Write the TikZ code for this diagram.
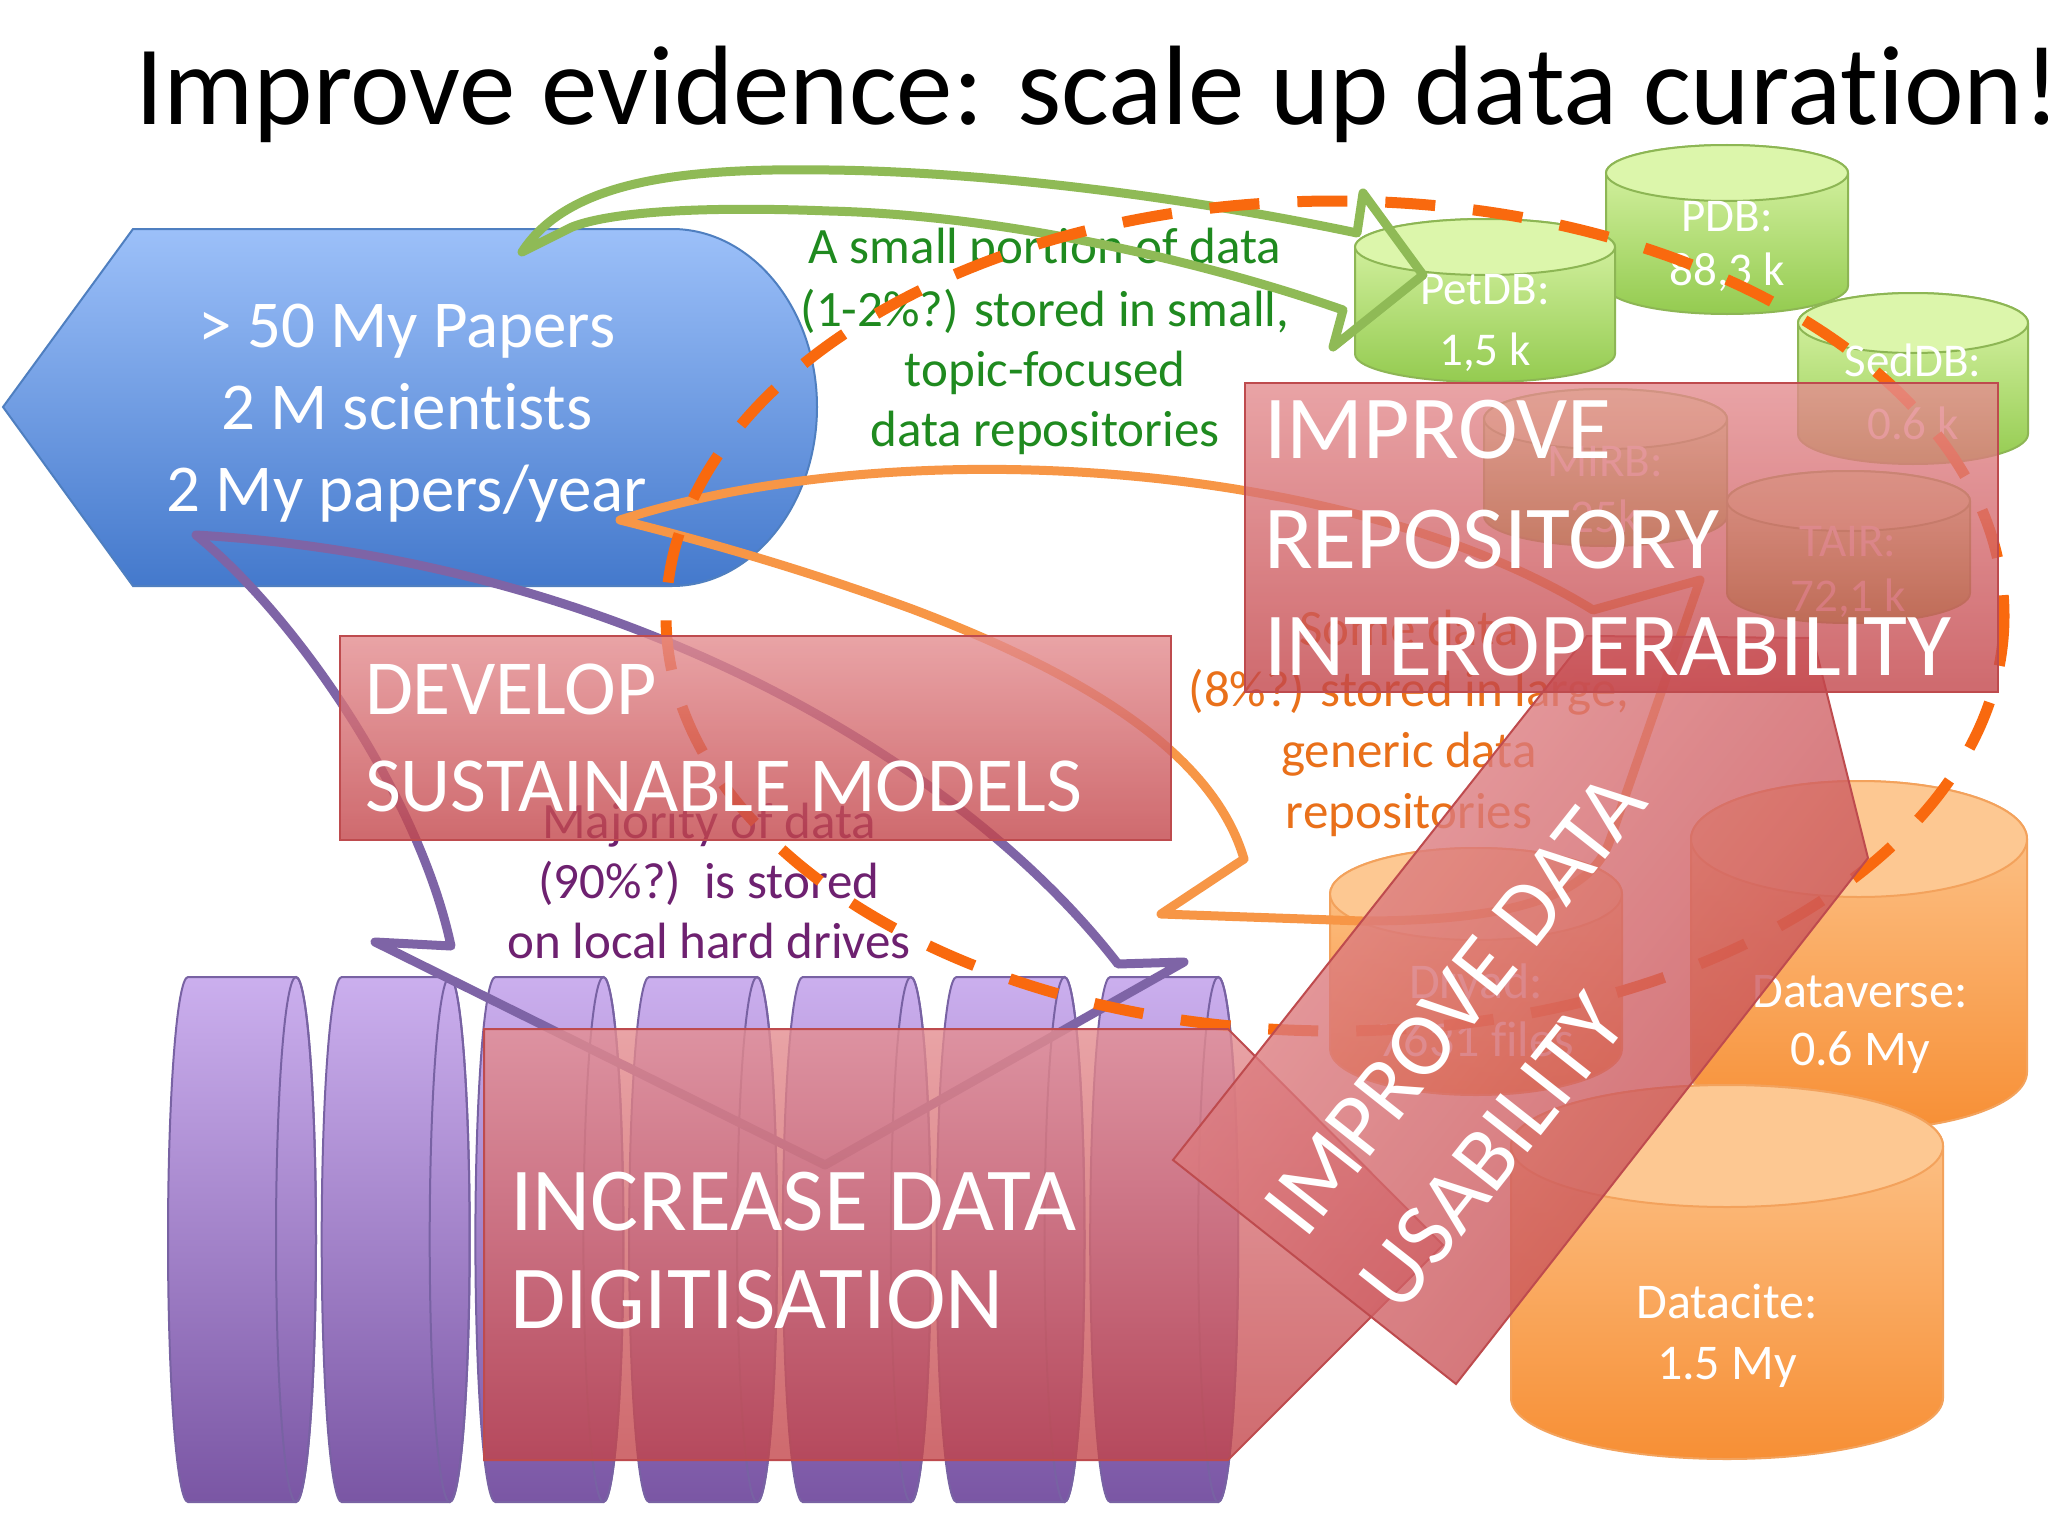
\documentclass[tikz,border=0pt]{standalone}
\usepackage{fontspec}
\setmainfont{Carlito}[Ligatures=NoCommon]
\definecolor{bluetop}{HTML}{9CC0F9}
\definecolor{bluebot}{HTML}{4479CC}
\definecolor{blueline}{HTML}{4F7FC0}
\definecolor{grntop}{HTML}{DCF6AB}
\definecolor{grnbot}{HTML}{94CB50}
\definecolor{grnline}{HTML}{8DB654}
\definecolor{orgtop}{HTML}{FDC892}
\definecolor{orgbot}{HTML}{F78F35}
\definecolor{orgline}{HTML}{F3A25C}
\definecolor{purtop}{HTML}{CBAFEE}
\definecolor{purbot}{HTML}{7A56A4}
\definecolor{purline}{HTML}{7862A3}
\definecolor{redtop}{HTML}{E48D90}
\definecolor{redbot}{HTML}{C3454A}
\definecolor{redline}{HTML}{BE4B4E}
\definecolor{arrgrn}{HTML}{8FBA56}
\definecolor{arrorg}{HTML}{F79646}
\definecolor{arrpur}{HTML}{7E64A6}
\definecolor{dashorg}{HTML}{F9690E}
\definecolor{txtgrn}{HTML}{1F8A1F}
\definecolor{txtorg}{HTML}{E9701A}
\definecolor{txtpur}{HTML}{6E2170}
\newcommand{\fsz}[1]{\fontsize{#1}{#1}\selectfont}
% vertical cylinder: x1, x2, top, bottom, ry, top colour, bottom colour, line colour
\newcommand{\vcyl}[8]{%
  \pgfmathsetmacro\cyX{(#1+#2)/2}%
  \pgfmathsetmacro\cyR{(#2-#1)/2}%
  \pgfmathsetmacro\cyT{#3+#5}%
  \pgfmathsetmacro\cyB{#4-#5}%
  \pgfmathsetmacro\cyKx{0.5523*\cyR}%
  \pgfmathsetmacro\cyKy{0.5523*#5}%
  \path[draw=#8, line width=2pt, top color=#6, bottom color=#7]
    (#1,\cyT) -- (#1,\cyB)
    .. controls (#1,\cyB+\cyKy) and (\cyX-\cyKx,#4) .. (\cyX,#4)
    .. controls (\cyX+\cyKx,#4) and (#2,\cyB+\cyKy) .. (#2,\cyB)
    -- (#2,\cyT)
    .. controls (#2,\cyT-\cyKy) and (\cyX+\cyKx,#3) .. (\cyX,#3)
    .. controls (\cyX-\cyKx,#3) and (#1,\cyT-\cyKy) .. (#1,\cyT) -- cycle;
  \draw[draw=#8, line width=2pt, fill=#6] (\cyX,\cyT) ellipse [x radius=\cyR, y radius=#5];
}
% horizontal disk, face on the right
\newcommand{\hdisk}[1]{%
  \pgfmathsetmacro\dkA{#1}%
  \pgfmathsetmacro\dkB{#1+20}%
  \pgfmathsetmacro\dkC{#1+128}%
  \pgfmathsetmacro\dkD{#1+148}%
  \path[draw=purline, line width=2pt, top color=purtop, bottom color=purbot]
    (\dkB,977) -- (\dkC,977)
    .. controls (\dkC+11,977) and (\dkD,1094.5) .. (\dkD,1239.5)
    .. controls (\dkD,1384.5) and (\dkC+11,1502) .. (\dkC,1502)
    -- (\dkB,1502)
    .. controls (\dkB-11,1502) and (\dkA,1384.5) .. (\dkA,1239.5)
    .. controls (\dkA,1094.5) and (\dkB-11,977) .. (\dkB,977) -- cycle;
  \draw[purline, line width=2pt] (\dkC,1239.5) ellipse [x radius=20, y radius=262.5];
}
\begin{document}
\begin{tikzpicture}[x=1pt,y=-1pt,
  txt/.style={inner sep=0pt, outer sep=0pt, anchor=base},
  txtw/.style={inner sep=0pt, outer sep=0pt, anchor=base west},
  redsty/.style={draw=redline, line width=2pt, top color=redtop, bottom color=redbot, fill opacity=0.8},
  arrsty/.style={line width=9pt, line join=round, line cap=round},
  dashsty/.style={draw=dashorg, line width=11pt, dash pattern=on 50pt off 38pt}]
\useasboundingbox[fill=white] (0,0) rectangle (2048,1536);

% title
\node[txtw, font=\fsz{113}] (title) at (135,125) {Improve evidence: scale up data curation!};

% blue display shape
\path[draw=blueline, line width=2pt, top color=bluetop, bottom color=bluebot]
  (3,407) -- (133,229) -- (672,229) .. controls (752,229) and (817,309) .. (817,407)
  .. controls (817,505) and (752,586) .. (672,586) -- (133,586) -- cycle;
\node[txt, text=white, font=\fsz{67}] (pap1) at (407,347) {> 50 My Papers};
\node[txt, text=white, font=\fsz{67}] (pap2) at (407,429) {2 M scientists};
\node[txt, text=white, font=\fsz{67}] (pap3) at (407,511) {2 My papers/year};

% green repositories
\vcyl{1606}{1848}{145}{314}{28}{grntop}{grnbot}{grnline}
\vcyl{1355}{1615}{219}{382}{28}{grntop}{grnbot}{grnline}
\vcyl{1798}{2028}{293}{464}{30}{grntop}{grnbot}{grnline}
\vcyl{1484}{1727}{389}{546}{30}{grntop}{grnbot}{grnline}
\vcyl{1727}{1970}{471}{623}{30}{grntop}{grnbot}{grnline}
\node[txt, text=white, font=\fsz{47}] (pet1) at (1485,304) {PetDB:};
\node[txt, text=white, font=\fsz{47}] (pet2) at (1485,365) {1,5 k};
\node[txt, text=white, font=\fsz{47}] (pdb1) at (1727,231) {PDB:};
\node[txt, text=white, font=\fsz{47}] (pdb2) at (1727,285) {88,3 k};
\node[txt, text=white, font=\fsz{47}] (sed1) at (1913,376) {SedDB:};
\node[txt, text=white, font=\fsz{47}] (sed2) at (1913,439) {0.6 k};
\node[txt, text=white, font=\fsz{47}] (mir1) at (1605,476) {MIRB:};
\node[txt, text=white, font=\fsz{47}] (mir2) at (1605,532) {25k};
\node[txt, text=white, font=\fsz{47}] (tai1) at (1848,556) {TAIR:};
\node[txt, text=white, font=\fsz{47}] (tai2) at (1848,611) {72,1 k};

% orange repositories
\vcyl{1330}{1622}{848}{1095}{46}{orgtop}{orgbot}{orgline}
\vcyl{1691}{2027}{781}{1130}{58}{orgtop}{orgbot}{orgline}
\vcyl{1511}{1943}{1085}{1459}{61}{orgtop}{orgbot}{orgline}
\node[txt, text=white, font=\fsz{50}] (dry1) at (1476,998) {Dryad:};
\node[txt, text=white, font=\fsz{50}] (dry2) at (1476,1056) {7631 files};
\node[txt, text=white, font=\fsz{50}] (dvs1) at (1860,1007) {Dataverse:};
\node[txt, text=white, font=\fsz{50}] (dvs2) at (1860,1065) {0.6 My};
\node[txt, text=white, font=\fsz{50}] (dci1) at (1727,1318) {Datacite:};
\node[txt, text=white, font=\fsz{50}] (dci2) at (1727,1379) {1.5 My};

% purple hard drives
\foreach \i in {0,...,6} {\pgfmathsetmacro\dkX{168+153.7*\i}\hdisk{\dkX}}

% labels
\node[txt, text=txtgrn, font=\fsz{51}] (g1) at (1045,263) {A small portion of data};
\node[txt, text=txtgrn, font=\fsz{51}] (g2) at (1045,326) {(1-2\%?) stored in small,};
\node[txt, text=txtgrn, font=\fsz{51}] (g3) at (1045,386) {topic-focused};
\node[txt, text=txtgrn, font=\fsz{51}] (g4) at (1045,446) {data repositories};
\node[txt, text=txtorg, font=\fsz{51}] (o1) at (1409,645) {Some data};
\node[txt, text=txtorg, font=\fsz{51}] (o2) at (1409,706) {(8\%?) stored in large,};
\node[txt, text=txtorg, font=\fsz{51}] (o3) at (1409,767) {generic data};
\node[txt, text=txtorg, font=\fsz{51}] (o4) at (1409,828) {repositories};
\node[txt, text=txtpur, font=\fsz{51}] (p1) at (709,838) {Majority of data};
\node[txt, text=txtpur, font=\fsz{51}] (p2) at (709,898) {(90\%?)\ \ is stored};
\node[txt, text=txtpur, font=\fsz{51}] (p3) at (709,958) {on local hard drives};

% outline arrows
\draw[arrsty, draw=arrgrn] (522,252) .. controls (570,178) and (690,168) .. (829,170)
  .. controls (1000,172) and (1200,200) .. (1357,233) -- (1363,193) -- (1423,275)
  -- (1333,347) -- (1343,310) .. controls (1200,260) and (1000,215) .. (829,211)
  .. controls (700,206) and (610,212) .. (572,227) -- cycle;
\draw[arrsty, draw=arrorg] (620,520) .. controls (900,430) and (1350,460) .. (1593,610)
  -- (1700,580) -- (1610,840) .. controls (1590,900) and (1500,921) .. (1362,921)
  -- (1161,914) -- (1244,859) .. controls (1215,760) and (1100,680) .. (912,609)
  .. controls (800,568) and (700,540) .. (620,520) -- cycle;
\draw[arrsty, draw=arrpur] (196,535) .. controls (300,620) and (420,800) .. (451,946)
  -- (375,942) -- (825,1165) -- (1184,962) -- (1118,964)
  .. controls (960,760) and (620,560) .. (196,535) -- cycle;

% dashed boundary
\draw[dashsty] (1335,616) ellipse [x radius=669, y radius=415];

% red action boxes
\path[redsty] (340,636) rectangle (1171,840);
\path[redsty] (484,1029) -- (1228,1029) -- (1443,1245) -- (1228,1460) -- (484,1460) -- cycle;
\path[draw=redline, line width=2pt, top color=redtop, bottom color=redbot, shading angle=52, fill opacity=0.8]
  (1173,1160) -- (1587,636) -- (1813,638) -- (1868,858) -- (1456,1384) -- cycle;
\path[redsty] (1245,383) rectangle (1998,692);

\node[txtw, text=white, font=\fsz{78}] (dev1) at (365,714) {DEVELOP};
\node[txtw, text=white, font=\fsz{78}] (dev2) at (365,811) {SUSTAINABLE MODELS};
\node[txtw, text=white, font=\fsz{90}] (inc1) at (510,1230) {INCREASE DATA};
\node[txtw, text=white, font=\fsz{90}] (inc2) at (510,1328) {DIGITISATION};
\node[txtw, text=white, font=\fsz{90}, rotate=51.7] (usa1) at (1305,1240) {IMPROVE DATA};
\node[txtw, text=white, font=\fsz{90}, rotate=51.7] (usa2) at (1400,1315) {USABILITY};
\node[txtw, text=white, font=\fsz{90}] (rep1) at (1264,458) {IMPROVE};
\node[txtw, text=white, font=\fsz{90}] (rep2) at (1264,568) {REPOSITORY};
\node[txtw, text=white, font=\fsz{90}] (rep3) at (1264,675) {INTEROPERABILITY};
\end{tikzpicture}
\end{document}
